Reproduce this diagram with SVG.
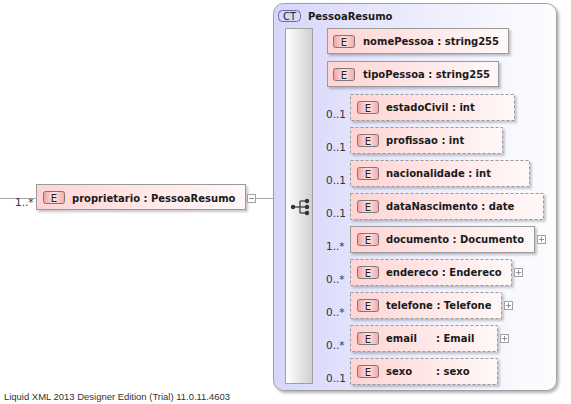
<svg xmlns="http://www.w3.org/2000/svg" width="571" height="404" viewBox="0 0 571 404">
<defs>
<linearGradient id="gCont" x1="0" y1="0" x2="1" y2="0">
<stop offset="0" stop-color="#d6d6fa"/><stop offset="0.5" stop-color="#ececfd"/><stop offset="1" stop-color="#fdfdff"/>
</linearGradient>
<linearGradient id="gBar" x1="0" y1="0" x2="1" y2="0">
<stop offset="0" stop-color="#ffffff"/><stop offset="1" stop-color="#cfcfcf"/>
</linearGradient>
<linearGradient id="gBox" x1="0" y1="0" x2="1" y2="0">
<stop offset="0" stop-color="#ffd4d4"/><stop offset="1" stop-color="#fff8f8"/>
</linearGradient>
<linearGradient id="gBadge" x1="0" y1="0" x2="1" y2="0">
<stop offset="0" stop-color="#f4a0a0"/><stop offset="0.5" stop-color="#ffe4e4"/><stop offset="1" stop-color="#f4a8a8"/>
</linearGradient>
<filter id="sh" x="-5%" y="-5%" width="115%" height="130%">
<feDropShadow dx="2" dy="2" stdDeviation="1" flood-color="#000" flood-opacity="0.22"/>
</filter>
<filter id="shc" x="-5%" y="-5%" width="115%" height="115%">
<feDropShadow dx="2" dy="2" stdDeviation="1.5" flood-color="#000" flood-opacity="0.3"/>
</filter>
</defs>
<style>
.box{fill:url(#gBox);stroke:#9a9a9a;stroke-width:1;filter:url(#sh)}
.opt{stroke-dasharray:3,2}
.badge{fill:url(#gBadge);stroke:#7a7a7a;stroke-width:1}
.bt{font-family:"DejaVu Sans",Verdana,sans-serif;font-size:10px;fill:#222;text-anchor:middle}
.lbl{font-family:"DejaVu Sans",Verdana,sans-serif;font-size:10px;font-weight:bold;fill:#1a1a1a}
.mult{font-family:"DejaVu Sans",Verdana,sans-serif;font-size:10.5px;fill:#333}
.ln{stroke:#a8a8a8;stroke-width:1;fill:none}
.exp{fill:#fff;stroke:#a0a0a0;stroke-width:1}
.sign{stroke:#909090;stroke-width:1}
</style>
<rect width="571" height="404" fill="#fff"/>

<g id="connectors">
<line class="ln" x1="0" y1="198.5" x2="36" y2="198.5"/>
<line class="ln" x1="255" y1="198.5" x2="273" y2="198.5"/>
<line class="ln" x1="273" y1="206.5" x2="286" y2="206.5"/>
<line class="ln" x1="313" y1="40.5" x2="327" y2="40.5"/>
<line class="ln" x1="313" y1="73.5" x2="327" y2="73.5"/>
<line class="ln" x1="313" y1="106.5" x2="350" y2="106.5"/>
<line class="ln" x1="313" y1="139.5" x2="350" y2="139.5"/>
<line class="ln" x1="313" y1="172.5" x2="350" y2="172.5"/>
<line class="ln" x1="313" y1="205.5" x2="350" y2="205.5"/>
<line class="ln" x1="313" y1="238.5" x2="350" y2="238.5"/>
<line class="ln" x1="313" y1="271.5" x2="350" y2="271.5"/>
<line class="ln" x1="313" y1="304.5" x2="350" y2="304.5"/>
<line class="ln" x1="313" y1="337.5" x2="350" y2="337.5"/>
<line class="ln" x1="313" y1="370.5" x2="350" y2="370.5"/>
</g>

<g id="PessoaResumo">
<rect x="273.5" y="3.5" width="283" height="387" rx="10" fill="url(#gCont)" stroke="#a0a0a0" filter="url(#shc)"/>
<rect x="278.5" y="10.5" width="22" height="11" rx="4" fill="#d8d8ff" stroke="#6a6aa0"/>
<text x="289.5" y="20" class="bt">CT</text>
<text x="308" y="20" class="lbl">PessoaResumo</text>
</g>

<g id="sequence">
<rect x="285.5" y="28.5" width="27" height="355" fill="url(#gBar)" stroke="#a0a0a0"/>
<g fill="#333" stroke="#333" stroke-width="1.2">
<line x1="293" y1="207" x2="300" y2="207"/>
<line x1="300" y1="201" x2="300" y2="213"/>
<line x1="300" y1="201" x2="307" y2="201"/>
<line x1="300" y1="213" x2="307" y2="213"/>
<line x1="300" y1="207" x2="307" y2="207"/>
<circle cx="293" cy="207" r="2.2" stroke="none"/>
<circle cx="307" cy="201" r="2.2" stroke="none"/>
<circle cx="307" cy="207" r="2.2" stroke="none"/>
<circle cx="307" cy="213" r="2.2" stroke="none"/>
</g>
</g>

<g id="proprietario">
<text x="15" y="206" class="mult">1..*</text>
<rect class="box" x="36.5" y="184.5" width="209" height="25"/>
<rect class="badge" x="43.5" y="191.5" width="21" height="12" rx="2"/>
<text x="54" y="201.5" class="bt">E</text>
<text x="72" y="202" class="lbl">proprietario : PessoaResumo</text>
<rect class="exp" x="247.5" y="194.5" width="8" height="8"/>
<line class="sign" x1="249" y1="198.5" x2="254" y2="198.5"/>
</g>

<g id="nomePessoa">
<rect class="box" x="327.5" y="28.5" width="181" height="25"/>
<rect class="badge" x="333.5" y="35.5" width="21" height="12" rx="2"/>
<text x="344" y="45.5" class="bt">E</text>
<text x="363" y="45" class="lbl">nomePessoa : string255</text>
</g>

<g id="tipoPessoa">
<rect class="box" x="327.5" y="61.5" width="171" height="25"/>
<rect class="badge" x="333.5" y="68.5" width="21" height="12" rx="2"/>
<text x="344" y="78.5" class="bt">E</text>
<text x="363" y="78" class="lbl">tipoPessoa : string255</text>
</g>

<g id="estadoCivil">
<text x="326" y="118" class="mult">0..1</text>
<rect class="box opt" x="350.5" y="94.5" width="164" height="26"/>
<rect class="badge" x="357.5" y="101.5" width="21" height="12" rx="2"/>
<text x="368" y="111.5" class="bt">E</text>
<text x="386" y="111" class="lbl">estadoCivil : int</text>
</g>

<g id="profissao">
<text x="326" y="151" class="mult">0..1</text>
<rect class="box opt" x="350.5" y="127.5" width="152" height="26"/>
<rect class="badge" x="357.5" y="134.5" width="21" height="12" rx="2"/>
<text x="368" y="144.5" class="bt">E</text>
<text x="386" y="144" class="lbl">profissao : int</text>
</g>

<g id="nacionalidade">
<text x="326" y="184" class="mult">0..1</text>
<rect class="box opt" x="350.5" y="160.5" width="179" height="26"/>
<rect class="badge" x="357.5" y="167.5" width="21" height="12" rx="2"/>
<text x="368" y="177.5" class="bt">E</text>
<text x="386" y="177" class="lbl">nacionalidade : int</text>
</g>

<g id="dataNascimento">
<text x="326" y="217" class="mult">0..1</text>
<rect class="box opt" x="350.5" y="193.5" width="193" height="26"/>
<rect class="badge" x="357.5" y="200.5" width="21" height="12" rx="2"/>
<text x="368" y="210.5" class="bt">E</text>
<text x="386" y="210" class="lbl">dataNascimento : date</text>
</g>

<g id="documento">
<text x="326" y="250" class="mult">1..*</text>
<rect class="box" x="350.5" y="226.5" width="184" height="26"/>
<rect class="badge" x="357.5" y="233.5" width="21" height="12" rx="2"/>
<text x="368" y="243.5" class="bt">E</text>
<text x="386" y="243" class="lbl">documento : Documento</text>
<rect class="exp" x="537.5" y="235.5" width="8" height="8"/>
<line class="sign" x1="539" y1="239.5" x2="544" y2="239.5"/>
<line class="sign" x1="541.5" y1="237" x2="541.5" y2="242"/>
</g>

<g id="endereco">
<text x="326" y="283" class="mult">0..*</text>
<rect class="box opt" x="350.5" y="259.5" width="161" height="26"/>
<rect class="badge" x="357.5" y="266.5" width="21" height="12" rx="2"/>
<text x="368" y="276.5" class="bt">E</text>
<text x="386" y="276" class="lbl">endereco : Endereco</text>
<rect class="exp" x="514.5" y="268.5" width="8" height="8"/>
<line class="sign" x1="516" y1="272.5" x2="521" y2="272.5"/>
<line class="sign" x1="518.5" y1="270" x2="518.5" y2="275"/>
</g>

<g id="telefone">
<text x="326" y="316" class="mult">0..*</text>
<rect class="box opt" x="350.5" y="292.5" width="151" height="26"/>
<rect class="badge" x="357.5" y="299.5" width="21" height="12" rx="2"/>
<text x="368" y="309.5" class="bt">E</text>
<text x="386" y="309" class="lbl">telefone : Telefone</text>
<rect class="exp" x="504.5" y="301.5" width="8" height="8"/>
<line class="sign" x1="506" y1="305.5" x2="511" y2="305.5"/>
<line class="sign" x1="508.5" y1="303" x2="508.5" y2="308"/>
</g>

<g id="email">
<text x="326" y="349" class="mult">0..*</text>
<rect class="box opt" x="350.5" y="325.5" width="147" height="26"/>
<rect class="badge" x="357.5" y="332.5" width="21" height="12" rx="2"/>
<text x="368" y="342.5" class="bt">E</text>
<text x="386" y="342" class="lbl">email</text>
<text x="436" y="342" class="lbl">: Email</text>
<rect class="exp" x="500.5" y="334.5" width="8" height="8"/>
<line class="sign" x1="502" y1="338.5" x2="507" y2="338.5"/>
<line class="sign" x1="504.5" y1="336" x2="504.5" y2="341"/>
</g>

<g id="sexo">
<text x="326" y="382" class="mult">0..1</text>
<rect class="box opt" x="350.5" y="358.5" width="147" height="26"/>
<rect class="badge" x="357.5" y="365.5" width="21" height="12" rx="2"/>
<text x="368" y="375.5" class="bt">E</text>
<text x="386" y="375" class="lbl">sexo</text>
<text x="436" y="375" class="lbl">: sexo</text>
</g>

<text x="4" y="400" font-family="Liberation Sans, Arial, sans-serif" font-size="9" fill="#333" textLength="226" lengthAdjust="spacingAndGlyphs">Liquid XML 2013 Designer Edition (Trial) 11.0.11.4603</text>
</svg>
